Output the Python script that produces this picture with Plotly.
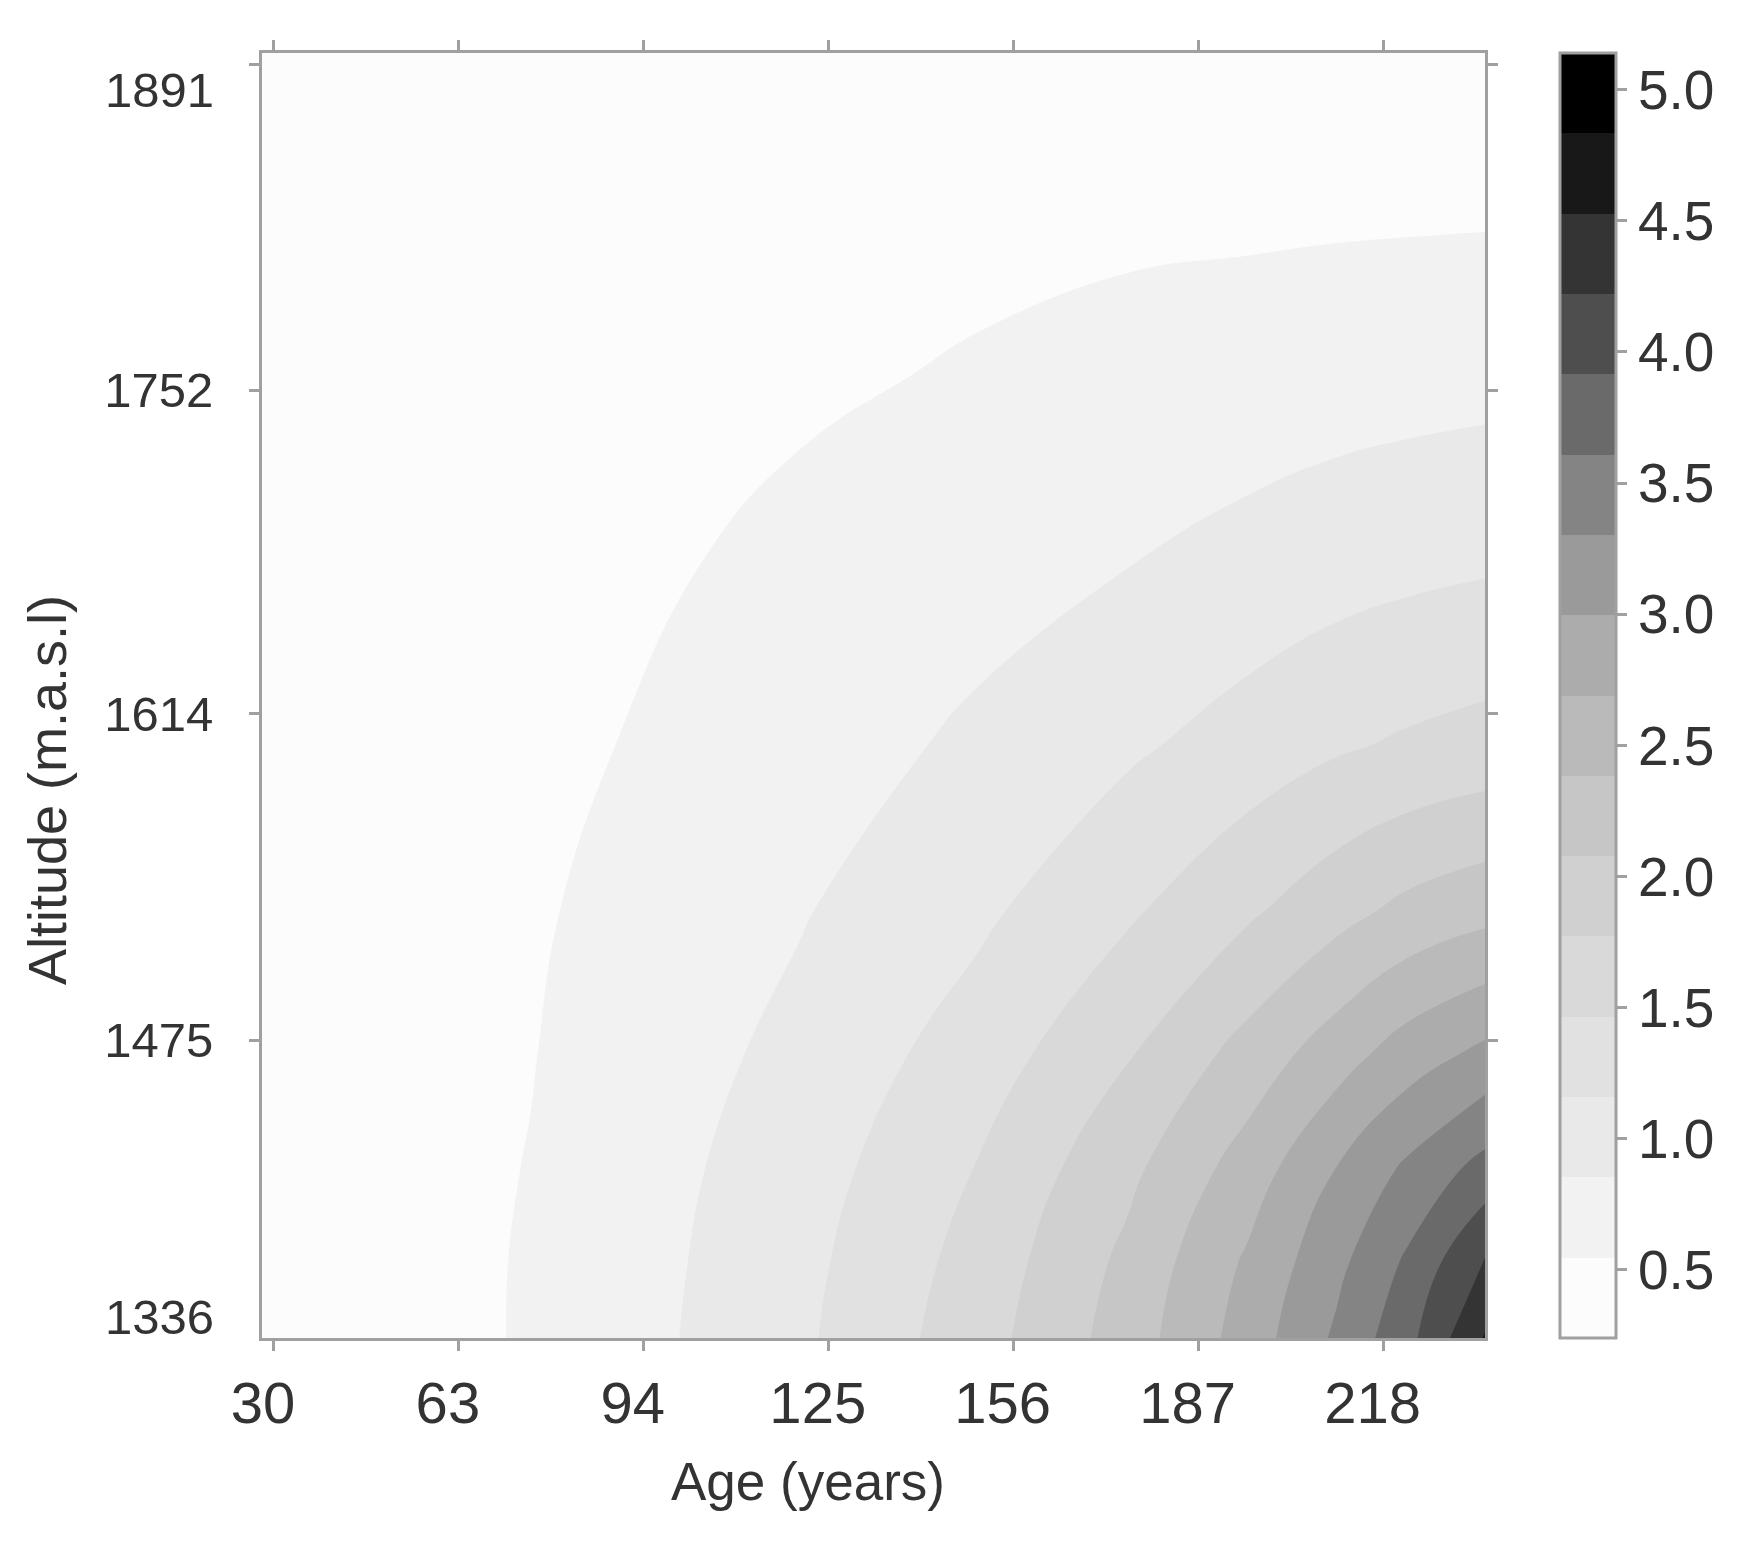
"""
Filled contour of a response surface over tree age and altitude,
drawn in grey bands like the lattice levelplot it copies.
"""
import plotly.graph_objects as go


# ── Data ──────────────────────────────────────────────────────────────────

AGE = [30, 60, 75, 90, 120, 150, 175, 195, 210, 222, 235]
ALTITUDE = [1348, 1380, 1420, 1470, 1530, 1600, 1680, 1760, 1830, 1896]

# one row per altitude, one value per age
Z_1348 = [0.36, 0.48, 0.571, 0.73, 1.10, 1.64, 2.22, 2.82, 3.35, 3.82, 4.55]
Z_1380 = [0.36, 0.475, 0.57, 0.72, 1.07, 1.58, 2.15, 2.73, 3.22, 3.66, 4.25]
Z_1420 = [0.355, 0.47, 0.556, 0.71, 1.01, 1.48, 2.00, 2.52, 3.00, 3.36, 3.72]
Z_1470 = [0.35, 0.46, 0.535, 0.67, 0.93, 1.30, 1.74, 2.18, 2.54, 2.83, 3.06]
Z_1530 = [0.34, 0.45, 0.52, 0.60, 0.83, 1.10, 1.42, 1.72, 1.97, 2.16, 2.29]
Z_1600 = [0.33, 0.43, 0.49, 0.55, 0.71, 0.91, 1.11, 1.29, 1.43, 1.51, 1.58]
Z_1680 = [0.31, 0.41, 0.45, 0.49, 0.61, 0.73, 0.84, 0.94, 1.02, 1.07, 1.11]
Z_1760 = [0.29, 0.37, 0.41, 0.44, 0.50, 0.57, 0.63, 0.68, 0.71, 0.73, 0.75]
Z_1830 = [0.27, 0.34, 0.37, 0.39, 0.44, 0.47, 0.49, 0.49, 0.50, 0.505, 0.51]
Z_1896 = [0.24, 0.29, 0.30, 0.31, 0.33, 0.35, 0.37, 0.39, 0.40, 0.41, 0.42]

Z_MIN, Z_MAX = 0.24, 5.14
N_BANDS = 16

X_TICKS = [32, 63, 94, 125, 156, 187, 218]
X_TICK_TEXT = ["30", "63", "94", "125", "156", "187", "218"]
Y_TICKS = [1891, 1752, 1614, 1475]
Y_TICK_TEXT = ["", "1752", "1614", "1475"]
# labels the original prints a little off their ticks
Y_LOOSE_LABELS = ["1891", "1336"]
Y_LOOSE_LABELS_AT = [1880, 1357]
CB_TICKS = [0.5, 1.0, 1.5, 2.0, 2.5, 3.0, 3.5, 4.0, 4.5, 5.0]


# ── Style ─────────────────────────────────────────────────────────────────

# grey ramp, lightest band first
BAND_COLORS = [
    "#fcfcfc", "#f2f2f2", "#e9e9e9", "#e1e1e1", "#d9d9d9", "#d0d0d0",
    "#c6c6c6", "#bababa", "#acacac", "#9a9a9a", "#848484", "#6a6a6a",
    "#4e4e4e", "#343434", "#181818", "#000000",
]
FRAME = "#a0a0a0"
INK = "#333333"
FONT = "Liberation Sans, Arial, sans-serif"

# the page body adds 8px, so the figure's own box sits 8px up/left
W, H = 1757, 1541
PLOT_L, PLOT_R, PLOT_T, PLOT_B = 254, 1477, 45, 1330
CBAR_L = 1552


def _step_scale(colors):
    n = len(colors)
    scale = []
    for i, c in enumerate(colors):
        scale.append([i / n, c])
        scale.append([(i + 1) / n, c])
    return scale


def build_figure() -> go.Figure:
    z = [Z_1348, Z_1380, Z_1420, Z_1470, Z_1530,
         Z_1600, Z_1680, Z_1760, Z_1830, Z_1896]
    band = (Z_MAX - Z_MIN) / N_BANDS
    plot_w = PLOT_R - PLOT_L
    plot_h = PLOT_B - PLOT_T

    fig = go.Figure(go.Contour(
        x=AGE, y=ALTITUDE, z=z,
        zmin=Z_MIN, zmax=Z_MAX,
        autocontour=False,
        contours=dict(start=Z_MIN + band, end=Z_MAX - band, size=band,
                      coloring="fill", showlines=False),
        line=dict(width=0, smoothing=1.3),
        colorscale=_step_scale(BAND_COLORS),
        colorbar=dict(
            thickness=56, len=1, lenmode="fraction",
            x=(CBAR_L - PLOT_L) / plot_w, xanchor="left", xpad=0,
            y=0.5, yanchor="middle", ypad=0,
            outlinecolor=FRAME, outlinewidth=3,
            ticks="outside", ticklen=10, tickwidth=3, tickcolor=FRAME,
            tickvals=CB_TICKS, ticktext=[f"{v:.1f}" for v in CB_TICKS],
            tickfont=dict(family=FONT, size=55, color=INK),
        ),
        hovertemplate="Age %{x}<br>Altitude %{y}<br>%{z:.2f}<extra></extra>",
    ))

    axis_common = dict(
        showline=True, linecolor=FRAME, linewidth=3, mirror="ticks",
        ticks="outside", ticklen=10, tickwidth=3, tickcolor=FRAME,
        showgrid=False, zeroline=False,
    )
    fig.update_xaxes(
        range=[30, 235], tickvals=X_TICKS, ticktext=X_TICK_TEXT,
        tickfont=dict(family=FONT, size=58, color=INK),
        ticklabelstandoff=2, ticklabelshift=-11, **axis_common,
    )
    fig.update_yaxes(
        range=[1348, 1895.7], tickvals=Y_TICKS, ticktext=Y_TICK_TEXT,
        tickfont=dict(family=FONT, size=49, color=INK),
        ticklabelstandoff=26, **axis_common,
    )

    loose = [
        dict(text=t, xref="paper", yref="y", x=0, y=v,
             xanchor="right", yanchor="middle", xshift=-46, showarrow=False,
             font=dict(family=FONT, size=49, color=INK))
        for t, v in zip(Y_LOOSE_LABELS, Y_LOOSE_LABELS_AT)
    ]
    titles = [
        dict(text="Age (years)", xref="paper", yref="paper",
             x=(800 - PLOT_L) / plot_w, y=0,
             xanchor="center", yanchor="middle", yshift=-(1473 - PLOT_B),
             showarrow=False, font=dict(family=FONT, size=53, color=INK)),
        dict(text="Altitude (m.a.s.l)", xref="paper", yref="paper",
             x=0, y=(PLOT_B - 782) / plot_h,
             xanchor="center", yanchor="middle", xshift=-(PLOT_L - 39),
             textangle=-90, showarrow=False,
             font=dict(family=FONT, size=54, color=INK)),
    ]

    fig.update_layout(
        width=W, height=H,
        margin=dict(l=PLOT_L, r=W - PLOT_R, t=PLOT_T, b=H - PLOT_B),
        paper_bgcolor="white", plot_bgcolor="white",
        font=dict(family=FONT, color=INK),
        showlegend=False,
        annotations=loose + titles,
    )
    return fig


fig = build_figure()
fig.write_html("out.html")
